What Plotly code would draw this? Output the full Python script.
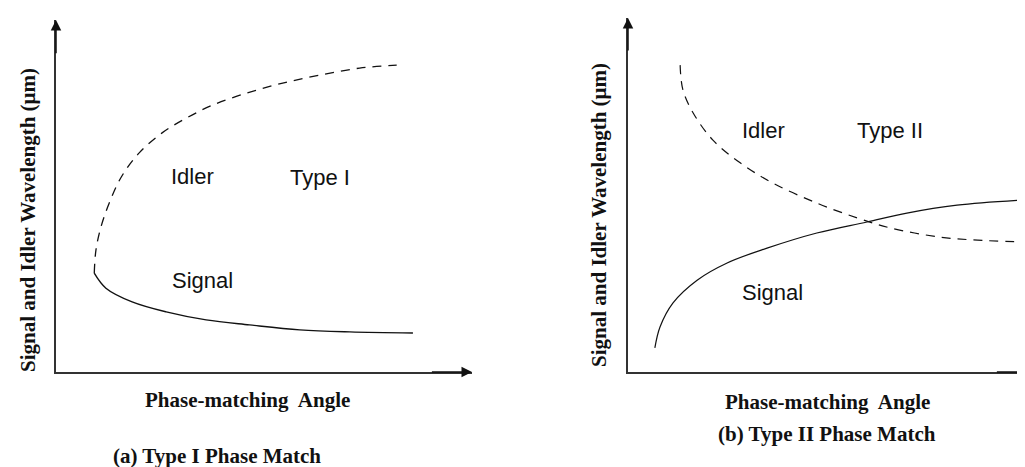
import plotly.graph_objects as go

# (a) Type I: idler (dashed) and signal (solid), arbitrary units
type1_idler_x = [0.92, 0.96, 1.08, 1.28, 1.57, 2.00, 2.55, 3.13, 3.76, 4.58, 5.45, 6.34, 7.30, 8.19]
type1_idler_y = [2.96, 3.65, 4.34, 5.06, 5.84, 6.56, 7.16, 7.60, 7.99, 8.35, 8.65, 8.89, 9.10, 9.19]
type1_signal_x = [0.92, 1.20, 1.83, 2.65, 3.61, 4.65, 5.86, 7.06, 8.58]
type1_signal_y = [2.96, 2.51, 2.10, 1.80, 1.56, 1.41, 1.26, 1.20, 1.17]

# (b) Type II
type2_idler_x = [1.32, 1.39, 1.65, 2.15, 2.84, 3.67, 4.78, 5.80, 6.63, 7.90, 8.73, 10.0]
type2_idler_y = [8.92, 8.20, 7.53, 6.74, 6.08, 5.49, 4.91, 4.48, 4.19, 3.92, 3.84, 3.78]
type2_signal_x = [0.68, 0.81, 1.14, 1.75, 2.51, 3.52, 4.78, 6.05, 7.06, 8.33, 10.0]
type2_signal_y = [0.70, 1.31, 2.01, 2.67, 3.17, 3.60, 4.04, 4.36, 4.62, 4.85, 5.00]

INK = "#111111"
SANS = "Liberation Sans, Arial, sans-serif"
SERIF = "Liberation Serif, Times New Roman, serif"

# the page puts the plot 8px in from the top-left corner
OFF = 8
W, H = 1025 - OFF, 467 - OFF


def px_x(p):
    return (p - OFF) / W


def px_y(p):
    return 1 - (p - OFF) / H


fig = go.Figure()

dash = "9px,7px"
fig.add_trace(go.Scatter(x=type1_idler_x, y=type1_idler_y, mode="lines", xaxis="x", yaxis="y",
                         line=dict(color=INK, width=1.3, dash=dash, shape="spline")))
fig.add_trace(go.Scatter(x=type1_signal_x, y=type1_signal_y, mode="lines", xaxis="x", yaxis="y",
                         line=dict(color=INK, width=1.4, shape="spline")))
fig.add_trace(go.Scatter(x=type2_idler_x, y=type2_idler_y, mode="lines", xaxis="x2", yaxis="y2",
                         line=dict(color=INK, width=1.2, dash=dash, shape="spline")))
fig.add_trace(go.Scatter(x=type2_signal_x, y=type2_signal_y, mode="lines", xaxis="x2", yaxis="y2",
                         line=dict(color=INK, width=1.2, shape="spline")))

axis_style = dict(showgrid=False, zeroline=False, showticklabels=False, ticks="",
                  showline=True, linecolor="#333333", linewidth=1.5, mirror=False)

fig.update_layout(
    width=W, height=H,
    margin=dict(l=0, r=0, t=0, b=0),
    paper_bgcolor="white", plot_bgcolor="white",
    showlegend=False,
    xaxis=dict(domain=[px_x(56), px_x(472)], range=[0, 10.0], anchor="y", **axis_style),
    yaxis=dict(domain=[px_y(372), px_y(20)], range=[0, 10.54], anchor="x", **axis_style),
    xaxis2=dict(domain=[px_x(628), 1.0], range=[0, 10.05], anchor="y2", **axis_style),
    yaxis2=dict(domain=[px_y(372), px_y(18)], range=[0, 10.29], anchor="x2", **axis_style),
)

# axis arrows
arrows = [
    dict(x=0, y=10.54, ax=0, ay=9.5, xref="x", yref="y", axref="x", ayref="y"),
    dict(x=10.0, y=0, ax=9.0, ay=0, xref="x", yref="y", axref="x", ayref="y"),
    dict(x=0, y=10.29, ax=0, ay=9.3, xref="x2", yref="y2", axref="x2", ayref="y2"),
    dict(x=10.25, y=0, ax=9.3, ay=0, xref="x2", yref="y2", axref="x2", ayref="y2"),
]
for a in arrows:
    fig.add_annotation(text="", showarrow=True, arrowhead=2, arrowsize=1.4,
                       arrowwidth=1.5, arrowcolor=INK, **a)

# curve labels
labels = [
    ("Idler", 3.28, 5.84, "x", "y"),
    ("Type I", 6.34, 5.81, "x", "y"),
    ("Signal", 3.52, 2.75, "x", "y"),
    ("Idler", 3.42, 7.03, "x2", "y2"),
    ("Type II", 6.63, 7.03, "x2", "y2"),
    ("Signal", 3.67, 2.30, "x2", "y2"),
]
for text, x, y, xr, yr in labels:
    fig.add_annotation(text=text, x=x, y=y, xref=xr, yref=yr, showarrow=False,
                       font=dict(family=SANS, size=22, color=INK))

# axis titles and captions
titles = [
    ("<b>Signal and Idler Wavelength (μm)</b>", 28, 220, -90, 21),
    ("<b>Signal and Idler Wavelength (μm)</b>", 599, 215, -90, 21),
    ("<b>Phase-matching&nbsp; Angle</b>", 247, 400, 0, 21),
    ("<b>Phase-matching&nbsp; Angle</b>", 827, 402, 0, 21),
    ("<b>(a) Type I Phase Match</b>", 217, 456, 0, 21),
    ("<b>(b) Type II Phase Match</b>", 827, 434, 0, 21),
]
for text, px, py, ang, size in titles:
    fig.add_annotation(text=text, x=px_x(px), y=px_y(py), xref="paper", yref="paper",
                       showarrow=False, textangle=ang, xanchor="center", yanchor="middle",
                       font=dict(family=SERIF, size=size, color=INK))

fig.write_html("out.html")
